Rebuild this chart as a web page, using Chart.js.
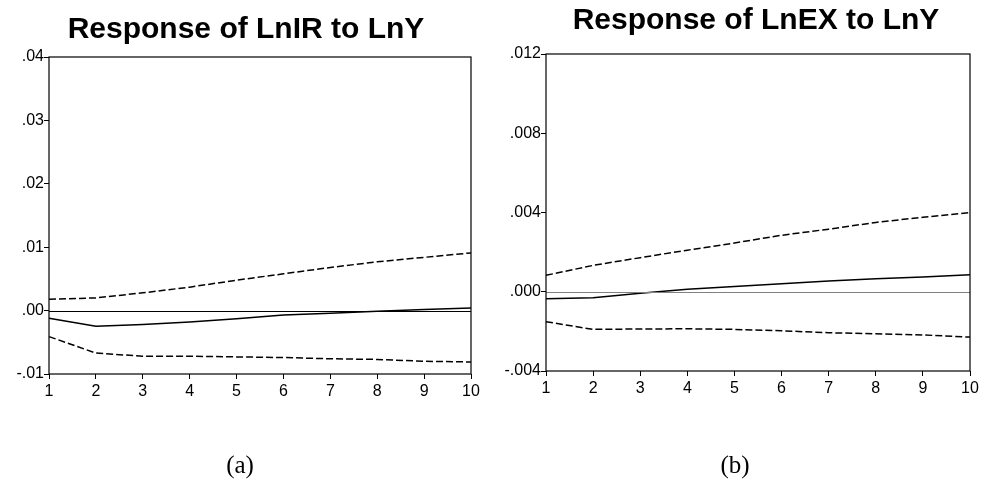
<!DOCTYPE html>
<html>
<head>
<meta charset="utf-8">
<script src="https://cdn.jsdelivr.net/npm/chart.js@4.4.0/dist/chart.umd.min.js"></script>
<style>
  html, body { margin: 0; padding: 0; background: #fff; }
  body { width: 983px; height: 494px; position: relative; overflow: hidden; }
  .box { position: absolute; top: 0; height: 494px; }
  .title { position: absolute; font-family: "Liberation Sans", Arial, sans-serif; font-weight: bold; font-size: 30px; color: #000; white-space: nowrap; transform: translateX(-50%); }
  .cap { position: absolute; font-family: "Liberation Serif", "Times New Roman", serif; font-size: 25px; color: #000; transform: translateX(-50%); }
</style>
</head>
<body>
<div class="box" style="left:0;width:490px;"><canvas id="c1"></canvas></div>
<div class="box" style="left:490px;width:493px;"><canvas id="c2"></canvas></div>
<div class="title" style="left:246px;top:11px;">Response of LnIR to LnY</div>
<div class="title" style="left:756px;top:2px;">Response of LnEX to LnY</div>
<div class="cap" style="left:240px;top:451px;">(a)</div>
<div class="cap" style="left:735px;top:451px;">(b)</div>
<script>
const periods = [1, 2, 3, 4, 5, 6, 7, 8, 9, 10];

const irResp  = [-0.0012, -0.00245, -0.0022, -0.0018, -0.0013, -0.0007, -0.0004, -0.0001, 0.00016, 0.0004];
const irUpper = [0.0018, 0.0020, 0.0028, 0.0037, 0.0048, 0.0058, 0.0068, 0.0077, 0.0084, 0.0091];
const irLower = [-0.0041, -0.0067, -0.0072, -0.0072, -0.0073, -0.0074, -0.0076, -0.0077, -0.0080, -0.0081];

const exResp  = [-0.00035, -0.0003, -0.00007, 0.00013, 0.00027, 0.0004, 0.00054, 0.00066, 0.00074, 0.00086];
const exUpper = [0.00083, 0.00133, 0.00172, 0.0021, 0.00246, 0.00285, 0.00316, 0.0035, 0.00376, 0.0040];
const exLower = [-0.00151, -0.0019, -0.00188, -0.00187, -0.0019, -0.00197, -0.00207, -0.00212, -0.00218, -0.00229];

const irTicks = [-0.01, 0, 0.01, 0.02, 0.03, 0.04];
const irTickLabels = ["-.01", ".00", ".01", ".02", ".03", ".04"];
const exTicks = [-0.004, 0, 0.004, 0.008, 0.012];
const exTickLabels = ["-.004", ".000", ".004", ".008", ".012"];

const tickFont = { family: "'Liberation Sans', Arial, sans-serif", size: 16 };

const framePlugin = {
  id: 'frame',
  afterDatasetsDraw(chart, args, opts) {
    const ctx = chart.ctx, a = chart.chartArea, y = chart.scales.y;
    ctx.save();
    const y0 = Math.round(y.getPixelForValue(0)) + 0.5;
    ctx.strokeStyle = opts.zeroColor;
    ctx.lineWidth = 1;
    ctx.beginPath();
    ctx.moveTo(a.left, y0);
    ctx.lineTo(a.right, y0);
    ctx.stroke();
    ctx.strokeStyle = '#000';
    ctx.lineWidth = 1.2;
    ctx.strokeRect(a.left, a.top, a.right - a.left, a.bottom - a.top);
    ctx.restore();
  }
};

function makeChart(id, resp, upper, lower, ticks, tickLabels, cfg) {
  const ds = (data, dashed) => ({
    data: data,
    borderColor: '#000',
    borderWidth: 1.5,
    borderDash: dashed ? [7, 3] : [],
    pointRadius: 0,
    fill: false,
    tension: 0
  });
  return new Chart(document.getElementById(id), {
    type: 'line',
    data: {
      labels: periods,
      datasets: [ds(upper, true), ds(resp, false), ds(lower, true)]
    },
    options: {
      responsive: true,
      maintainAspectRatio: false,
      animation: false,
      events: [],
      layout: { padding: cfg.padding },
      plugins: {
        legend: { display: false },
        tooltip: { enabled: false },
        frame: { zeroColor: cfg.zeroColor }
      },
      scales: {
        x: {
          type: 'category',
          offset: false,
          grid: { display: true, drawOnChartArea: false, drawTicks: true, tickLength: 5, color: '#000', tickColor: '#000', offset: false },
          border: { display: false },
          ticks: { color: '#000', font: tickFont, padding: 3, maxRotation: 0, autoSkip: false },
          afterFit(s) { s.height = 30; }
        },
        y: {
          type: 'linear',
          min: ticks[0],
          max: ticks[ticks.length - 1],
          afterBuildTicks(s) { s.ticks = ticks.map(v => ({ value: v })); },
          grid: { display: true, drawOnChartArea: false, drawTicks: true, tickLength: 5, color: '#000', tickColor: '#000' },
          border: { display: false },
          ticks: {
            color: '#000', font: tickFont, padding: 0,
            callback: (v, i) => tickLabels[i]
          },
          afterFit(s) { s.width = cfg.yWidth; }
        }
      }
    },
    plugins: [framePlugin]
  });
}

makeChart('c1', irResp, irUpper, irLower, irTicks, irTickLabels, {
  padding: { left: 9, right: 19, top: 57, bottom: 90 },
  yWidth: 40,
  zeroColor: '#000'
});
makeChart('c2', exResp, exUpper, exLower, exTicks, exTickLabels, {
  padding: { left: 8, right: 13, top: 54, bottom: 93 },
  yWidth: 48,
  zeroColor: '#808080'
});
</script>
</body>
</html>
